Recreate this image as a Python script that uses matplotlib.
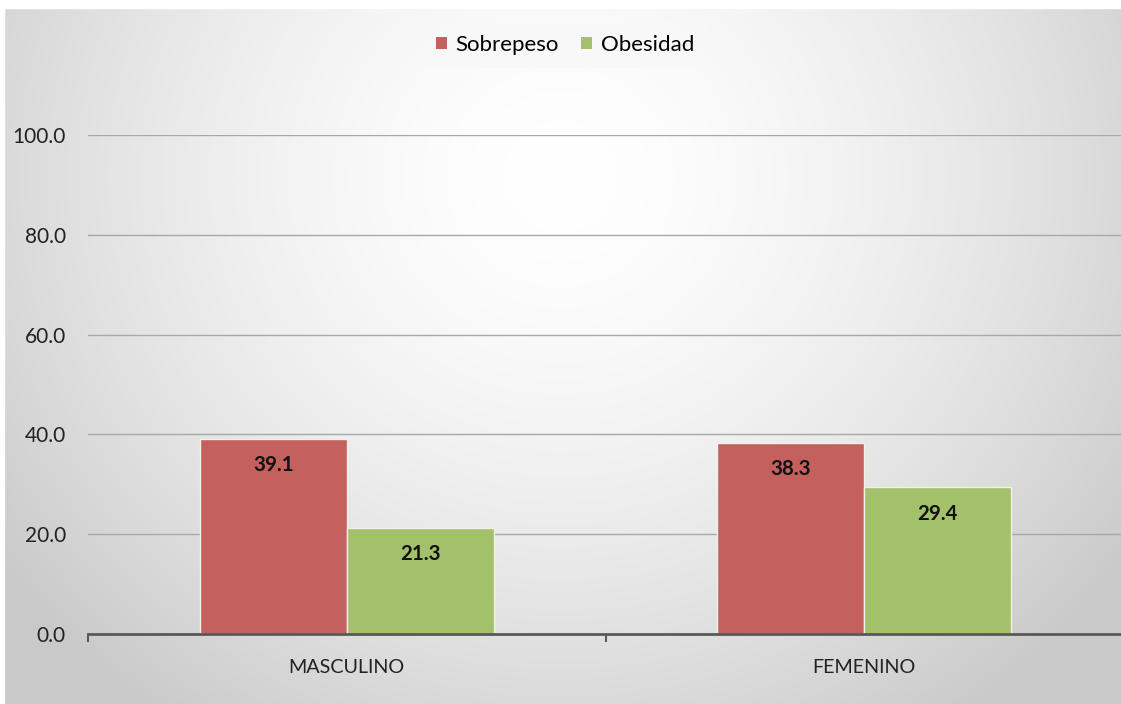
import numpy as np
import matplotlib
matplotlib.use("Agg")
import matplotlib.pyplot as plt
from matplotlib.patches import Rectangle

categorias = ["MASCULINO", "FEMENINO"]
sobrepeso = [39.1, 38.3]
obesidad = [21.3, 29.4]
series = ["Sobrepeso", "Obesidad"]

plt.rcParams['font.family'] = ['Lato', 'DejaVu Sans']

fig = plt.figure(figsize=(11.21, 7.04), dpi=100)
fig.patch.set_facecolor('#cccccc')

# gradient background (white centre, grey borders)
bg = fig.add_axes([0, 0, 1, 1])
yy, xx = np.mgrid[0:1:300j, 0:1:500j]
r = np.sqrt(((xx - 0.5) / 0.62) ** 2 + ((yy - 0.25) / 0.95) ** 2)
shade = 1.0 - 0.21 * np.clip(r, 0, 1) ** 1.6
bg.imshow(np.dstack([shade] * 3), aspect='auto', extent=[0, 1, 0, 1], origin='upper',
          interpolation='bilinear')
bg.set_xlim(0, 1)
bg.set_ylim(0, 1)
bg.axis('off')
# white strips at top and left
fig.add_artist(Rectangle((0, 1 - 8/704), 1, 8/704, transform=fig.transFigure, color='white', zorder=2))
fig.add_artist(Rectangle((0, 0), 4/1121, 1, transform=fig.transFigure, color='white', zorder=2))

ax = fig.add_axes([88/1121, 70/704, 1035/1121, 499/704])
ax.patch.set_alpha(0)

x = np.arange(len(categorias))
w = 0.284
b1 = ax.bar(x - w/2, sobrepeso, w, color='#c4615f', edgecolor='#f4f0e8', linewidth=1, label=series[0], zorder=3)
b2 = ax.bar(x + w/2, obesidad, w, color='#a3c06a', edgecolor='#f4f0e8', linewidth=1, label=series[1], zorder=3)

for bars in (b1, b2):
    for rect in bars:
        h = rect.get_height()
        ax.annotate(f"{h:.1f}", (rect.get_x() + rect.get_width()/2, h),
                    xytext=(0, -19), textcoords='offset points', ha='center', va='center',
                    fontsize=14.8, fontweight='bold', color='#111111', zorder=4)

ax.set_xlim(-0.5, 1.5)
ax.set_ylim(0, 100)
ax.set_yticks(np.arange(0, 101, 20))
ax.set_yticklabels([f"{v:.1f}" for v in np.arange(0, 101, 20)])
ax.yaxis.grid(True, color='#a8a8a8', linewidth=1, zorder=0)
ax.set_axisbelow(True)

ax.set_xticks(x)
ax.set_xticklabels(categorias)
ax.set_xticks([-0.5, 0.5, 1.5], minor=True)
ax.tick_params(axis='x', which='major', length=0, pad=18, labelsize=14.2, labelcolor='#222222')
ax.tick_params(axis='x', which='minor', length=6, width=1.5, color='#595959', direction='out')
ax.tick_params(axis='y', length=0, pad=16, labelsize=15, labelcolor='#222222')

for s in ['top', 'right', 'left']:
    ax.spines[s].set_visible(False)
ax.spines['bottom'].set_color('#595959')
ax.spines['bottom'].set_linewidth(2)
ax.spines['bottom'].set_zorder(5)

leg = fig.legend(handles=[b1, b2], labels=series, loc='center', bbox_to_anchor=(565/1121, 1 - 45/704),
                 ncol=2, fontsize=16, frameon=True, fancybox=False, handlelength=0.5, handleheight=0.5,
                 columnspacing=1.0, handletextpad=0.4, borderpad=0.6)
leg.get_frame().set_facecolor('#f8f8f8')
leg.get_frame().set_edgecolor('none')
for h in leg.legend_handles:
    h.set_edgecolor('none')

fig.savefig("out.png", dpi=100, facecolor=fig.get_facecolor())
